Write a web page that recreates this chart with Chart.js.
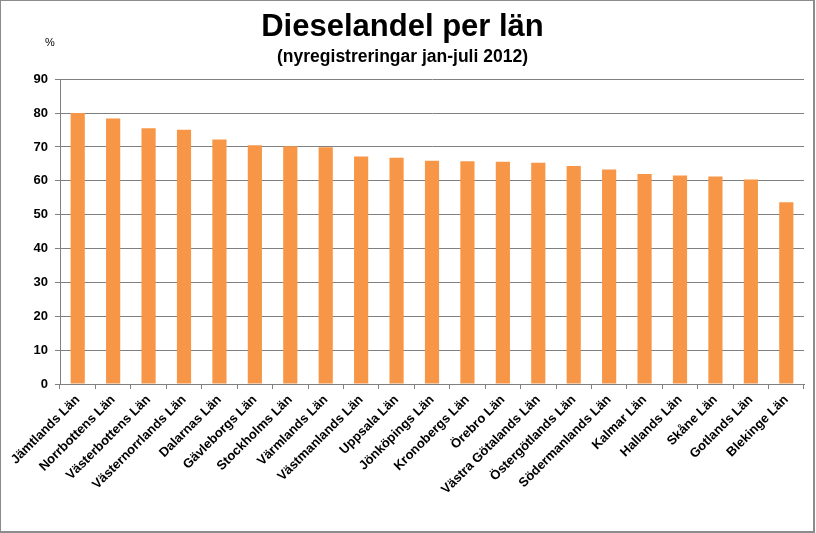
<!DOCTYPE html>
<html>
<head>
<meta charset="utf-8">
<script src="https://cdn.jsdelivr.net/npm/chart.js@4.4.0/dist/chart.umd.min.js"></script>
<style>
html,body{margin:0;padding:0;background:#fff;}
#wrap{position:absolute;left:0;top:0;width:812px;height:530px;border:1px solid #8c8c8c;border-right-width:2px;border-bottom-width:2px;background:#fff;}
canvas{display:block;}
</style>
</head>
<body>
<div id="wrap"><canvas id="c" width="812" height="530"></canvas></div>
<script>
const categories = ["Jämtlands Län","Norrbottens Län","Västerbottens Län","Västernorrlands Län","Dalarnas Län","Gävleborgs Län","Stockholms Län","Värmlands Län","Västmanlands Län","Uppsala Län","Jönköpings Län","Kronobergs Län","Örebro Län","Västra Götalands Län","Östergötlands Län","Södermanlands Län","Kalmar Län","Hallands Län","Skåne Län","Gotlands Län","Blekinge Län"];
const dieselShare = [80.0,78.4,75.5,75.1,72.2,70.5,70.2,69.9,67.2,66.8,65.9,65.8,65.6,65.3,64.4,63.3,62.0,61.6,61.3,60.4,53.7];
const yTicks = {min:0, max:90, step:10};
const titleText = "Dieselandel per län";
const subtitleText = "(nyregistreringar jan-juli 2012)";
const unitText = "%";

const sans = "'Liberation Sans', Arial, sans-serif";

const unitPlugin = {
  id:'unit',
  afterDraw(chart){
    const ctx = chart.ctx;
    ctx.save();
    ctx.font = "11px " + sans;
    ctx.fillStyle = "#000";
    ctx.textAlign = "center";
    ctx.textBaseline = "middle";
    ctx.fillText(unitText, 49, 42);
    ctx.restore();
  }
};

new Chart(document.getElementById('c'), {
  type:'bar',
  data:{
    labels:categories,
    datasets:[{
      data:dieselShare,
      backgroundColor:'#F79646',
      borderWidth:0,
      barPercentage:0.4,
      categoryPercentage:1.0
    }]
  },
  options:{
    responsive:false,
    animation:false,
    layout:{padding:{left:0,right:9,top:0,bottom:0}},
    plugins:{
      legend:{display:false},
      tooltip:{enabled:false},
      title:{display:true,text:titleText,color:'#000',font:{family:sans,size:31,weight:'bold'},padding:{top:8,bottom:0}},
      subtitle:{display:true,text:subtitleText,color:'#000',font:{family:sans,size:17.5,weight:'bold'},padding:{top:0,bottom:12}}
    },
    scales:{
      x:{
        grid:{display:true,drawOnChartArea:false,drawTicks:true,tickLength:5,color:'#808080',offset:true},
        border:{display:true,color:'#808080'},
        ticks:{color:'#000',font:{family:sans,size:13,weight:'bold'},maxRotation:45,minRotation:45,autoSkip:false,padding:3},
        afterFit(s){ s.height = 530 - 383; }
      },
      y:{
        min:yTicks.min,max:yTicks.max,
        grid:{color:'#808080',lineWidth:1,tickLength:5},
        border:{display:true,color:'#808080'},
        ticks:{stepSize:yTicks.step,color:'#000',font:{family:sans,size:13,weight:'bold'},padding:7},
        afterFit(s){ s.width = 59; }
      }
    }
  },
  plugins:[unitPlugin]
});
</script>
</body>
</html>
